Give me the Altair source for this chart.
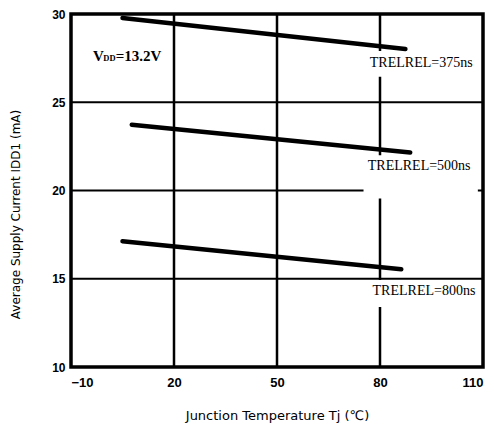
import altair as alt
import pandas as pd

# Data
series = ["375ns", "500ns", "800ns"]
temp_start = [5, 7.7, 5]
temp_end = [87.4, 88.8, 86.2]
cur_start = [29.77, 23.73, 17.12]
cur_end = [28.02, 22.15, 15.54]

x_ticks = [-10, 20, 50, 80, 110]
y_ticks = [10, 15, 20, 25, 30]
x_grid = [20, 50, 80]
y_grid = [15, 20, 25]

label_text = ["TRELREL=375ns", "TRELREL=500ns", "TRELREL=800ns"]
label_x = [92.0, 91.4, 92.8]
label_y = [27.23, 21.36, 14.3]

# white label backgrounds interrupting the grid
mask_x1 = [74, 75.2, 75]
mask_x2 = [108.5, 108.5, 108.5]
mask_y1 = [26.45, 19.55, 13.4]
mask_y2 = [27.9, 22.0, 14.93]

rows = []
for s, t0, t1, c0, c1 in zip(series, temp_start, temp_end, cur_start, cur_end):
    rows.append({"s": s, "T": t0, "I": c0})
    rows.append({"s": s, "T": t1, "I": c1})
lines_df = pd.DataFrame(rows)
labels_df = pd.DataFrame({"t": label_text, "x": label_x, "y": label_y})
masks_df = pd.DataFrame({"x1": mask_x1, "x2": mask_x2, "y1": mask_y1, "y2": mask_y2})

serif = "Liberation Serif"
sans = "DejaVu Sans"

xs = alt.Scale(domain=[-10, 110], nice=False, zero=False)
ys = alt.Scale(domain=[10, 30], nice=False, zero=False)

grid_x = alt.Chart(pd.DataFrame({"g": x_grid})).mark_rule(color="black", strokeWidth=2.5).encode(
    x=alt.X("g:Q", scale=xs,
            axis=alt.Axis(values=x_ticks, title="Junction Temperature Tj (℃)", grid=False,
                          ticks=False, domain=False, labelFont="Liberation Sans", labelFontSize=13,
                          labelFontWeight="bold", labelPadding=9, labelColor="black",
                          titleFont=sans, titleFontSize=13, titleFontWeight="normal",
                          titleColor="black", titleY=48, titleBaseline="middle"))
)
grid_y = alt.Chart(pd.DataFrame({"g": y_grid})).mark_rule(color="black", strokeWidth=2).encode(
    y=alt.Y("g:Q", scale=ys,
            axis=alt.Axis(values=y_ticks, title="Average Supply Current IDD1 (mA)", grid=False,
                          ticks=False, domain=False, labelFont="Liberation Sans", labelFontSize=12,
                          labelFontWeight="bold", labelPadding=6, labelColor="black",
                          titleFont=sans, titleFontSize=12, titleFontWeight="normal",
                          titleColor="black", titleX=-56, titleY=200, titleBaseline="middle"))
)

masks = alt.Chart(masks_df).mark_rect(color="white").encode(
    x=alt.X("x1:Q", scale=xs), x2="x2:Q", y=alt.Y("y1:Q", scale=ys), y2="y2:Q"
)

lines = alt.Chart(lines_df).mark_line(color="black", strokeWidth=4.5, strokeCap="round").encode(
    x=alt.X("T:Q", scale=xs), y=alt.Y("I:Q", scale=ys), detail="s:N"
)

labels = alt.Chart(labels_df).mark_text(font=serif, fontSize=14, color="black").encode(
    x=alt.X("x:Q", scale=xs), y=alt.Y("y:Q", scale=ys), text="t:N"
)

vdd_parts = pd.DataFrame({"t": ["V", "DD", "=13.2V"], "x": [-3.6, -0.6, 3.0], "y": [27.63, 27.63, 27.63],
                          "fs": [15, 8.5, 15]})
vdd = alt.Chart(vdd_parts).mark_text(font=serif, color="black", align="left", baseline="alphabetic",
                                     dy=5, fontWeight="bold").encode(
    x=alt.X("x:Q", scale=xs), y=alt.Y("y:Q", scale=ys), text="t:N",
    size=alt.Size("fs:Q", scale=None, legend=None)
)

chart = alt.layer(grid_x, grid_y, masks, lines, labels, vdd).properties(
    width=412, height=353,
    autosize=alt.AutoSizeParams(type="none"),
    padding={"left": 63, "top": 6, "right": 3, "bottom": 58},
    background="white",
).configure_view(stroke="black", strokeWidth=3.5)

chart.save("out.html", embed_options={"renderer": "svg", "actions": False})
